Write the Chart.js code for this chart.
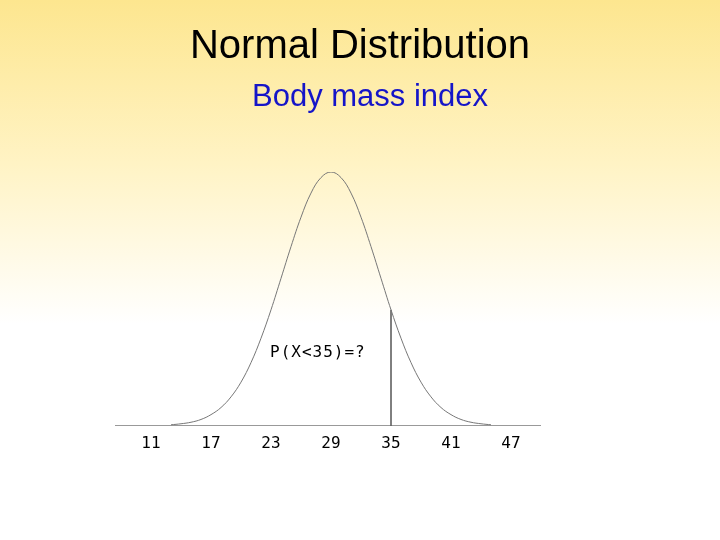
<!DOCTYPE html>
<html><head><meta charset="utf-8">
<script src="https://cdn.jsdelivr.net/npm/chart.js@4"></script>
<style>
html,body{margin:0;padding:0;}
#wrap{position:relative;width:720px;height:540px;background:linear-gradient(to bottom,#fde68f 0%,#fff3c4 30%,#ffffff 60%,#ffffff 100%);}
#t1{position:absolute;left:0;width:720px;top:22px;text-align:center;font:40px "Liberation Sans",Arial,sans-serif;color:#000;}
#t2{position:absolute;left:10px;width:720px;top:78px;text-align:center;font:31px "Liberation Sans",Arial,sans-serif;color:#1515c8;}
#lab{position:absolute;left:270px;top:342px;font:16px "DejaVu Sans Mono",monospace;color:#000;letter-spacing:1px;}
canvas{position:absolute;left:0;top:0;}
</style></head><body>
<div id="wrap">
<canvas id="c" width="720" height="540"></canvas>
<div id="t1">Normal Distribution</div>
<div id="t2">Body mass index</div>
<div id="lab">P(X&lt;35)=?</div>
</div>
<script>
const bmi = [13,14,15,16,17,18,19,20,21,22,23,24,25,26,27,28,29,30,31,32,33,34,35,36,37,38,39,40,41,42,43,44,45];
const density = [0.004,0.008,0.014,0.025,0.044,0.072,0.114,0.172,0.249,0.345,0.457,0.581,0.706,0.822,0.917,0.978,1.0,0.978,0.917,0.822,0.706,0.581,0.457,0.345,0.249,0.172,0.114,0.072,0.044,0.025,0.014,0.008,0.004];
const cutoff = 35;
const cutoffHeight = 0.457;
const tickLabels = [11,17,23,29,35,41,47];
new Chart(document.getElementById('c'),{
  type:'line',
  data:{datasets:[
    {data:bmi.map((x,i)=>({x,y:density[i]})),borderColor:'#777',borderWidth:1,pointRadius:0,tension:0.4,fill:false},
    {data:[{x:cutoff,y:0},{x:cutoff,y:cutoffHeight}],borderColor:'#000',borderWidth:1,pointRadius:0}
  ]},
  options:{responsive:false,animation:false,
    layout:{padding:{left:115,right:180,top:172,bottom:79}},
    plugins:{legend:{display:false},tooltip:{enabled:false}},
    scales:{
      x:{type:'linear',min:7.4,max:49.9,
        afterBuildTicks:s=>{s.ticks=tickLabels.map(v=>({value:v}));},
        grid:{display:false,drawTicks:false},
        border:{display:true,color:'#999',width:1},
        ticks:{color:'#000',padding:8,font:{family:'DejaVu Sans Mono',size:16},callback:v=>String(v)}},
      y:{display:false,min:0,max:1}
    }}
});
</script>
</body></html>
